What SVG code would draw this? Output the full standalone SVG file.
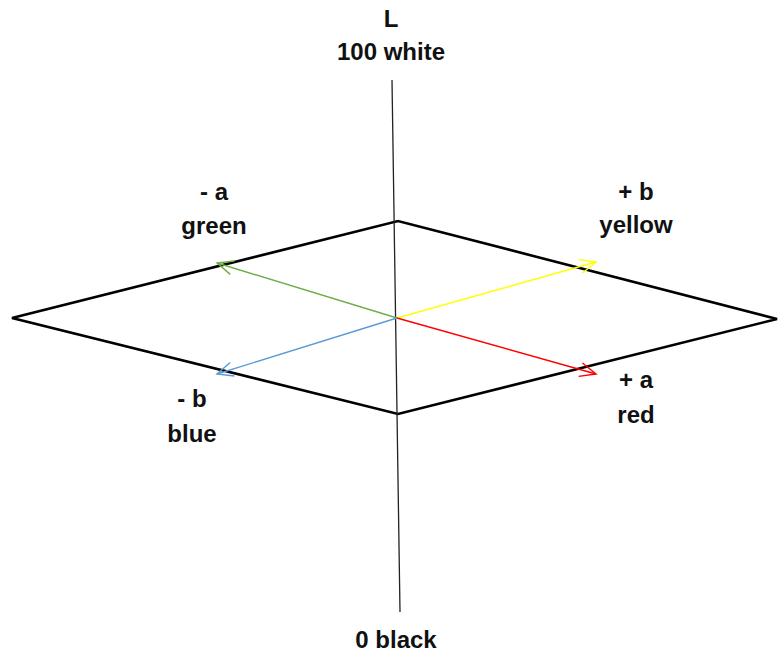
<svg xmlns="http://www.w3.org/2000/svg" width="779" height="654" viewBox="0 0 779 654">
<style>
text{font-family:"Liberation Sans",Arial,sans-serif;font-weight:bold;font-size:24px;fill:#111;text-anchor:middle}
.ax{stroke:#222;stroke-width:1.3;fill:none}
.pl{stroke:#000;stroke-width:2.6;fill:none;stroke-linejoin:miter}
.ar{stroke-width:1.4;fill:none}
</style>
<defs>
<marker id="mg" viewBox="0 0 20 20" refX="18" refY="10" markerWidth="20" markerHeight="20" markerUnits="userSpaceOnUse" orient="auto"><path d="M2,3 L18,10 L2,17" fill="none" stroke="#70ad47" stroke-width="1.4"/></marker>
<marker id="my" viewBox="0 0 20 20" refX="18" refY="10" markerWidth="20" markerHeight="20" markerUnits="userSpaceOnUse" orient="auto"><path d="M2,3 L18,10 L2,17" fill="none" stroke="#ffff00" stroke-width="1.4"/></marker>
<marker id="mr" viewBox="0 0 20 20" refX="18" refY="10" markerWidth="20" markerHeight="20" markerUnits="userSpaceOnUse" orient="auto"><path d="M2,3 L18,10 L2,17" fill="none" stroke="#ff0000" stroke-width="1.4"/></marker>
<marker id="mb" viewBox="0 0 20 20" refX="18" refY="10" markerWidth="20" markerHeight="20" markerUnits="userSpaceOnUse" orient="auto"><path d="M2,3 L18,10 L2,17" fill="none" stroke="#5b9bd5" stroke-width="1.4"/></marker>
</defs>
<g id="plane">
<polygon class="pl" points="12,318 398,221 777,319 398,414"/>
</g>
<g id="connectors">
<line id="L-axis" class="ax" x1="392" y1="80" x2="400" y2="612"/>
<line class="ar" stroke="#70ad47" x1="397" y1="318" x2="217" y2="263" marker-end="url(#mg)"/>
<line class="ar" stroke="#ffff00" x1="397" y1="318" x2="596" y2="262" marker-end="url(#my)"/>
<line class="ar" stroke="#ff0000" x1="397" y1="318" x2="596" y2="374" marker-end="url(#mr)"/>
<line class="ar" stroke="#5b9bd5" x1="397" y1="318" x2="217" y2="374" marker-end="url(#mb)"/>
</g>
<g id="label-L"><text x="391" y="27">L</text><text x="391" y="60">100 white</text></g>
<g id="label-green"><text x="214" y="200">- a</text><text x="214" y="234">green</text></g>
<g id="label-yellow"><text x="636" y="200">+ b</text><text x="636" y="233">yellow</text></g>
<g id="label-blue"><text x="192" y="407">- b</text><text x="192" y="442">blue</text></g>
<g id="label-red"><text x="636" y="388">+ a</text><text x="636" y="423">red</text></g>
<g id="label-black"><text x="396" y="648">0 black</text></g>
</svg>
